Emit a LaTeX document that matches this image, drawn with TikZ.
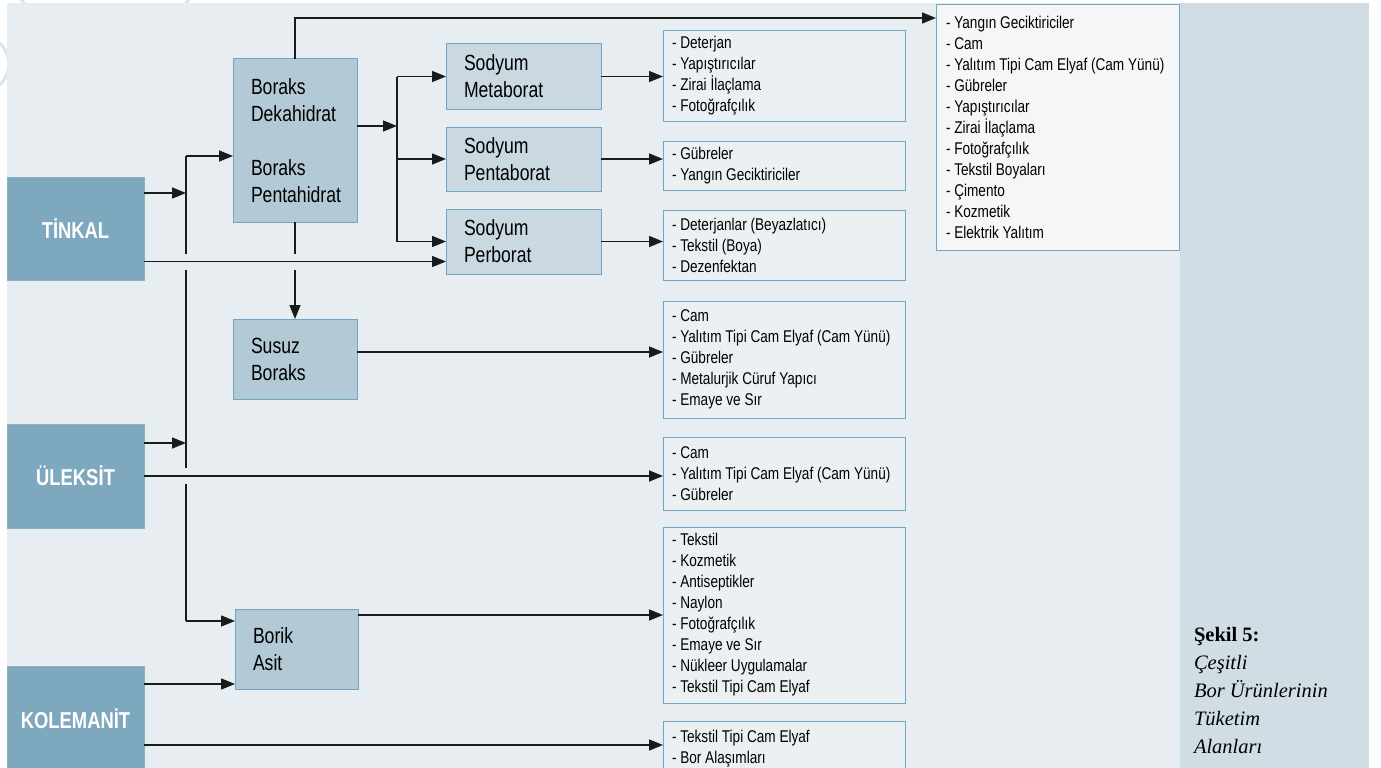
\documentclass[tikz,border=0pt]{standalone}
\usepackage{fontspec}
\setmainfont{Liberation Sans}[FakeStretch=0.8]
\newfontfamily\capfont{Liberation Serif}
\usetikzlibrary{arrows.meta}
\definecolor{bggray}{HTML}{E8EDF1}
\definecolor{panelblue}{HTML}{D0DDE5}
\definecolor{srcblue}{HTML}{7EA8BE}
\definecolor{srcedge}{HTML}{8AB2C6}
\definecolor{midblue}{HTML}{B3C9D6}
\definecolor{sodblue}{HTML}{C9D8E1}
\definecolor{edgeblue}{HTML}{6FA6C4}
\definecolor{listgray}{HTML}{EDF0F3}
\definecolor{listwhite}{HTML}{F4F6F8}
\definecolor{decocyan}{HTML}{CFE9EE}
\definecolor{wire}{HTML}{1A1A1A}

\begin{document}
\begin{tikzpicture}[
      x=1pt, y=-1pt,
      >={Triangle[length=14pt,width=11pt]},
      every node/.style={inner sep=0pt, outer sep=0pt, anchor=north west},
      srcbox/.style={draw=srcedge, fill=srcblue, line width=1pt, text=white,
        font=\fontsize{23}{27}\selectfont\bfseries, minimum width=137pt},
      midbox/.style={draw=edgeblue, fill=#1, line width=1pt, align=flush left,
        font=\fontsize{22}{27}\selectfont, inner xsep=18pt},
      usebox/.style={draw=edgeblue, fill=#1, line width=1pt, align=flush left,
        font=\fontsize{17}{21}\selectfont, inner xsep=9pt, text width=224pt,
        minimum width=242pt},
      link/.style={draw=wire, line width=1.5pt},
      bridge/.style={preaction={draw=bggray, line width=16pt, -, shorten <=2pt, shorten >=3pt}},
    ]
    \clip (0,0) rectangle (1381,768);
    \fill[white] (0,0) rectangle (1381,768);
    \draw[decocyan, line width=3pt] (-19,64) circle[radius=28pt];
    \draw[decocyan, line width=3pt] (105,-62) circle[radius=104pt];
    \fill[bggray] (7,3) rectangle (1180,768);
    \fill[panelblue] (1180,3) rectangle (1369,768);

    % raw minerals
    \node[srcbox, minimum height=103pt] (tinkal) at (7,177) {TİNKAL};
    \node[srcbox, minimum height=104pt] (uleksit) at (7,424) {ÜLEKSİT};
    \node[srcbox, minimum height=106pt] (kolemanit) at (7,666) {KOLEMANİT};

    % intermediate products
    \node[midbox=midblue, text width=88pt, minimum height=163pt] (boraks) at (233,59)
      {Boraks\\Dekahidrat\\[27pt]Boraks\\Pentahidrat};
    \node[midbox=midblue, text width=88pt, minimum height=80pt] (susuz) at (233,319)
      {Susuz\\Boraks};
    \node[midbox=midblue, text width=87pt, minimum height=80pt] (borik) at (235,609)
      {Borik\\Asit};
    \node[midbox=sodblue, text width=119pt, minimum height=65pt] (meta) at (446,44)
      {Sodyum\\Metaborat};
    \node[midbox=sodblue, text width=119pt, minimum height=64pt] (penta) at (446,127)
      {Sodyum\\Pentaborat};
    \node[midbox=sodblue, text width=119pt, minimum height=65pt] (per) at (446,209)
      {Sodyum\\Perborat};

    % uses
    \node[usebox=listgray, minimum height=90pt] (u1) at (663,31)
      {- Deterjan\\- Yapıştırıcılar\\- Zirai İlaçlama\\- Fotoğrafçılık};
    \node[usebox=listgray, minimum height=49pt] (u2) at (663,141)
      {- Gübreler\\- Yangın Geciktiriciler};
    \node[usebox=listgray, minimum height=70pt] (u3) at (663,210)
      {- Deterjanlar (Beyazlatıcı)\\- Tekstil (Boya)\\- Dezenfektan};
    \node[usebox=listgray, minimum height=117pt] (u4) at (663,301)
      {- Cam\\- Yalıtım Tipi Cam Elyaf (Cam Yünü)\\- Gübreler\\- Metalurjik Cüruf Yapıcı\\- Emaye ve Sır};
    \node[usebox=listgray, minimum height=73pt] (u5) at (663,437)
      {- Cam\\- Yalıtım Tipi Cam Elyaf (Cam Yünü)\\- Gübreler};
    \node[usebox=listgray, minimum height=176pt] (u6) at (663,527)
      {- Tekstil\\- Kozmetik\\- Antiseptikler\\- Naylon\\- Fotoğrafçılık\\- Emaye ve Sır\\- Nükleer Uygulamalar\\- Tekstil Tipi Cam Elyaf};
    \node[usebox=listgray, minimum height=56pt] (u7) at (663,721)
      {- Tekstil Tipi Cam Elyaf\\- Bor Alaşımları};
    \node[usebox=listwhite, inner xsep=10pt, text width=223pt, minimum width=243pt,
      minimum height=245pt] (u0) at (936,5)
      {- Yangın Geciktiriciler\\- Cam\\- Yalıtım Tipi Cam Elyaf (Cam Yünü)\\- Gübreler\\- Yapıştırıcılar\\- Zirai İlaçlama\\- Fotoğrafçılık\\- Tekstil Boyaları\\- Çimento\\- Kozmetik\\- Elektrik Yalıtım};

    \node[align=flush left, font=\capfont\fontsize{20.5}{28}\selectfont] (cap) at (1194,627)
      {\textbf{Şekil 5:}\\\textit{Çeşitli}\\\textit{Bor Ürünlerinin}\\\textit{Tüketim}\\\textit{Alanları}};

    % junctions
    \coordinate (bTop) at (186,156);
    \coordinate (bBot) at (186,621);
    \coordinate (bA) at (186,193);
    \coordinate (bB) at (186,443);
    \coordinate (sA) at (397,126);
    \coordinate (topbend) at (boraks.north |- 0,18);
    \coordinate (pIn) at ([yshift=-20pt]per.west);
    \coordinate (kIn) at ([yshift=-24pt]u7.north west);

    % vertical runs first, crossings drawn over them
    \draw[link] (bTop) -- (bBot);
    \draw[link, ->] (bTop) -- (boraks.west |- bTop);
    \draw[link, ->] (bBot) -- (borik.west |- bBot);
    \draw[link, ->] (tinkal.east |- bA) -- (bA);
    \draw[link, ->] (uleksit.east |- bB) -- (bB);
    \draw[link, ->] (boraks.south) -- (susuz.north);
    \draw[link, ->] (boraks.north) -- (topbend) -- (topbend -| u0.west);
    \draw[link, ->] (boraks.east |- sA) -- (sA);
    \draw[link] (sA |- meta.west) -- (sA |- per.west);
    \draw[link, ->] (sA |- meta.west) -- (meta.west);
    \draw[link, ->] (sA |- penta.west) -- (penta.west);
    \draw[link, ->] (sA |- per.west) -- (per.west);
    \draw[link, ->, bridge] (tinkal.east |- pIn) -- (pIn);
    \draw[link, ->, bridge] (uleksit.east) -- (uleksit.east -| u5.west);

    \draw[link, ->] (meta.east) -- (meta.east -| u1.west);
    \draw[link, ->] (penta.east) -- (penta.east -| u2.west);
    \draw[link, ->] (per.east) -- (per.east -| u3.west);
    \draw[link, ->] ([yshift=7pt]susuz.east) -- ([yshift=7pt]susuz.east -| u4.west);
    \draw[link, ->] (borik.east |- u6.west) -- (u6.west);
    \draw[link, ->] ([yshift=-18pt]kolemanit.north east) -- ([yshift=-18pt]kolemanit.north east -| borik.west);
    \draw[link, ->] (kolemanit.east |- kIn) -- (kIn);
  \end{tikzpicture}
\end{document}
